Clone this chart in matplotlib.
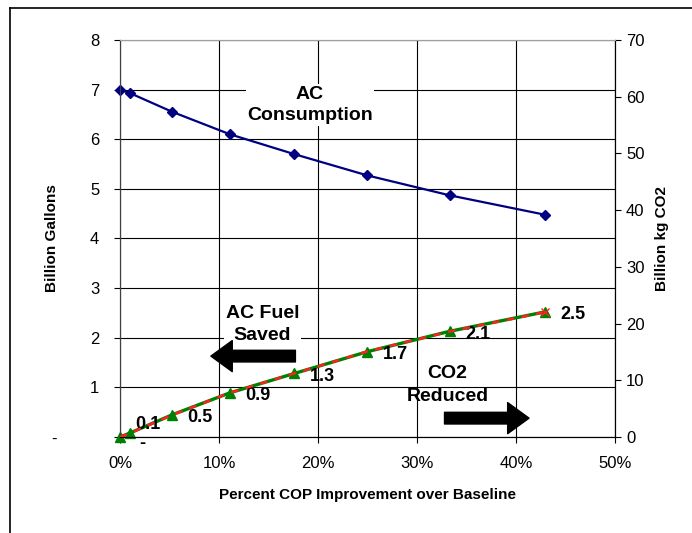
import matplotlib.pyplot as plt
from matplotlib.lines import Line2D
from matplotlib.patches import FancyArrowPatch
from matplotlib.ticker import FuncFormatter

plt.rcParams['font.family'] = ['Liberation Sans', 'DejaVu Sans']

# Data
cop_pct = [0, 1.0, 5.3, 11.1, 17.6, 25.0, 33.3, 42.9]
consumption = [7.0, 6.93, 6.55, 6.1, 5.7, 5.27, 4.87, 4.48]
fuel_saved = [0.0, 0.08, 0.45, 0.89, 1.28, 1.72, 2.13, 2.52]
co2_reduced = [0.0, 0.7, 3.9, 7.8, 11.2, 15.1, 18.6, 22.0]
saved_labels = ['-', '0.1', '0.5', '0.9', '1.3', '1.7', '2.1', '2.5']

fig = plt.figure(figsize=(6.92, 5.33), dpi=100)
ax = fig.add_axes([0.1734, 0.1801, 0.7153, 0.7449])
ax2 = ax.twinx()

# Frame around the figure (top and left visible)
fig.add_artist(Line2D([10 / 692, 10 / 692], [0, 1 - 8 / 533], color='black', lw=1.2))
fig.add_artist(Line2D([10 / 692, 1], [1 - 8 / 533, 1 - 8 / 533], color='black', lw=1.2))

# Lines
ax.plot(cop_pct, consumption, color='#000080', lw=1.6, marker='D', markersize=5,
        zorder=4, clip_on=False)
ax.plot(cop_pct, fuel_saved, color='#008000', lw=2.4, marker='^', markersize=7,
        zorder=4, clip_on=False)
ax2.plot(cop_pct, co2_reduced, color='#ff2020', lw=1.8, ls=(0, (3, 3)),
         marker='x', markersize=6, markevery=[len(cop_pct) - 1], zorder=5)

ax.set_xlim(0, 50)
ax.set_ylim(0, 8)
ax2.set_ylim(0, 70)
ax.set_xticks(range(0, 51, 10))
ax.set_yticks(range(0, 9))
ax2.set_yticks(range(0, 71, 10))
ax.xaxis.set_major_formatter(FuncFormatter(lambda v, p: f'{int(v)}%'))
ax.yaxis.set_major_formatter(FuncFormatter(lambda v, p: '-' + ' ' * 9 if v == 0 else f'{int(v)}'))

ax.grid(True, color='black', lw=0.8)
ax.set_axisbelow(True)
for a in (ax, ax2):
    a.tick_params(direction='out', length=4, labelsize=12, colors='black')
    a.spines['top'].set_color('#a0a0a0')
    a.spines['right'].set_color('black')
    a.spines['left'].set_color('#404040')
ax.tick_params(axis='x', pad=10)
ax.tick_params(axis='y', pad=11)
ax2.tick_params(axis='y', pad=4)

ax.set_xlabel('Percent COP Improvement over Baseline', fontsize=11, fontweight='bold', labelpad=12)
ax.set_ylabel('Billion Gallons', fontsize=11, fontweight='bold')
ax.yaxis.set_label_coords(-0.124, 0.5)
ax2.set_ylabel('Billion kg CO2', fontsize=11, fontweight='bold')
ax2.yaxis.set_label_coords(1.081, 0.5)

# Data labels for fuel saved
for i, (x, y, lab) in enumerate(zip(cop_pct, fuel_saved, saved_labels)):
    if i == 0:
        off = (14, -5)
    elif i == 1:
        off = (4, 6)
    else:
        off = (11, -2)
    ax.annotate(lab, (x, y), xytext=off, textcoords='offset points',
                fontsize=13, fontweight='bold', ha='left', va='center', zorder=6)

box = dict(facecolor='white', edgecolor='none', pad=1)
ax.text(19.2, 6.69, 'AC\nConsumption', fontsize=14, fontweight='bold',
        ha='center', va='center', linespacing=1.35, bbox=box, zorder=3)
ax.text(14.4, 2.26, 'AC Fuel\nSaved', fontsize=14, fontweight='bold',
        ha='center', va='center', linespacing=1.4, bbox=box, zorder=3)
ax.text(33.1, 1.05, 'CO2\nReduced', fontsize=14, fontweight='bold',
        ha='center', va='center', linespacing=1.5, zorder=3)

arrow_style = 'simple,head_length=1.1,head_width=1.6,tail_width=0.6'
ax.add_patch(FancyArrowPatch((18.0, 1.63), (8.9, 1.63), arrowstyle=arrow_style,
                             mutation_scale=14, color='black', zorder=5))
ax.add_patch(FancyArrowPatch((32.5, 0.38), (41.6, 0.38), arrowstyle=arrow_style,
                             mutation_scale=14, color='black', zorder=5))

fig.savefig('out.png', dpi=100)
